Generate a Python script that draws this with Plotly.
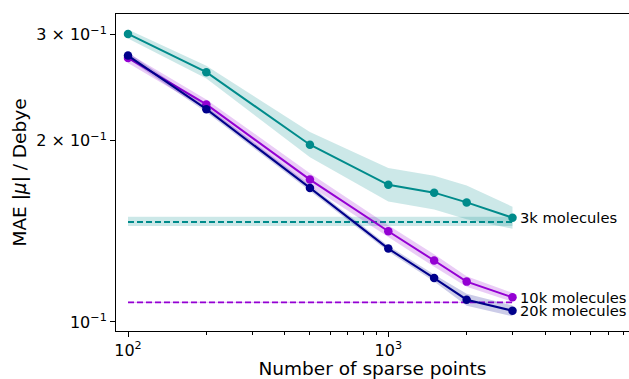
import math
import plotly.graph_objects as go

# ---- data ----
sparse_points = [100, 200, 500, 1000, 1500, 2000, 3000]

mae_3k = [0.301, 0.260, 0.197, 0.169, 0.164, 0.158, 0.149]
mae_3k_lo = [0.2958, 0.2537, 0.1877, 0.1585, 0.1537, 0.1481, 0.1429]
mae_3k_hi = [0.3062, 0.2665, 0.2068, 0.1802, 0.1750, 0.1686, 0.1554]

mae_10k = [0.2745, 0.2298, 0.1724, 0.1415, 0.1265, 0.1167, 0.1099]
mae_10k_lo = [0.2693, 0.2254, 0.1682, 0.1383, 0.1235, 0.1144, 0.1080]
mae_10k_hi = [0.2798, 0.2342, 0.1767, 0.1448, 0.1296, 0.1191, 0.1118]

mae_20k = [0.2770, 0.2257, 0.1670, 0.1324, 0.1183, 0.1089, 0.1044]
mae_20k_lo = [0.2738, 0.2231, 0.1651, 0.1309, 0.1167, 0.1064, 0.1022]
mae_20k_hi = [0.2802, 0.2283, 0.1689, 0.1339, 0.1199, 0.1114, 0.1066]

ref_x = [100, 3000]
ref_3k = 0.1466
ref_3k_lo = 0.1443
ref_3k_hi = 0.1496
ref_10k = 0.1078
ref_10k_lo = 0.1075
ref_10k_hi = 0.1081

labels = ["3k molecules", "10k molecules", "20k molecules"]

y_tickvals = [0.1, 0.2, 0.3]
y_ticktext = ["10<sup>−1</sup>", "2 × 10<sup>−1</sup>", "3 × 10<sup>−1</sup>"]
x_tickvals = [100, 1000]
x_ticktext = ["10<sup>2</sup>", "10<sup>3</sup>"]
x_minor = [200, 300, 400, 500, 600, 700, 800, 900, 2000, 3000, 4000, 5000, 6000, 7000, 8000]

TEAL = "#008b8b"
PURPLE = "#9400d3"
NAVY = "#00008b"

def rgba(hexc, a):
    h = hexc.lstrip("#")
    return f"rgba({int(h[0:2],16)},{int(h[2:4],16)},{int(h[4:6],16)},{a})"

fig = go.Figure()

def band(x, lo, hi, color):
    fig.add_trace(go.Scatter(x=x, y=lo, mode="lines", line=dict(width=0),
                             hoverinfo="skip", showlegend=False))
    fig.add_trace(go.Scatter(x=x, y=hi, mode="lines", line=dict(width=0),
                             fill="tonexty", fillcolor=rgba(color, 0.2),
                             hoverinfo="skip", showlegend=False))

# reference horizontal lines
band(ref_x, [ref_3k_lo] * 2, [ref_3k_hi] * 2, TEAL)
band(ref_x, [ref_10k_lo] * 2, [ref_10k_hi] * 2, PURPLE)
fig.add_trace(go.Scatter(x=ref_x, y=[ref_3k] * 2, mode="lines",
                         line=dict(color=TEAL, width=1.8, dash="6px,3px"), showlegend=False))
fig.add_trace(go.Scatter(x=ref_x, y=[ref_10k] * 2, mode="lines",
                         line=dict(color=PURPLE, width=1.8, dash="6px,3px"), showlegend=False))

series = [
    (mae_3k, mae_3k_lo, mae_3k_hi, TEAL),
    (mae_10k, mae_10k_lo, mae_10k_hi, PURPLE),
    (mae_20k, mae_20k_lo, mae_20k_hi, NAVY),
]
for y, lo, hi, c in series:
    band(sparse_points, lo, hi, c)
    fig.add_trace(go.Scatter(x=sparse_points, y=y, mode="lines+markers",
                             line=dict(color=c, width=2),
                             marker=dict(color=c, size=8.5), showlegend=False))

# annotations on log axes take log10 coordinates
for (y, lo, hi, c), lab in zip(series, labels):
    fig.add_annotation(x=math.log10(sparse_points[-1]), y=math.log10(y[-1]),
                       xref="x", yref="y",
                       text=lab, showarrow=False, xanchor="left", yanchor="middle",
                       xshift=5, font=dict(size=14.7, color="black"))

FONT = "DejaVu Sans"
fig.update_layout(
    width=629, height=379,
    margin=dict(l=116, r=0, t=14, b=48),
    paper_bgcolor="white", plot_bgcolor="white",
    font=dict(family=FONT, color="black", size=14),
    xaxis=dict(type="log", range=[1.9539, 3.9247],
               tickvals=x_tickvals, ticktext=x_ticktext,
               ticks="outside", ticklen=5, tickwidth=1, tickcolor="black",
               minor=dict(tickvals=x_minor, ticks="outside", ticklen=3,
                          tickwidth=0.8, tickcolor="black", showgrid=False),
               showline=True, linecolor="black", linewidth=1, mirror=True,
               showgrid=False, zeroline=False,
               tickfont=dict(size=16),
               title=dict(text="Number of sparse points", font=dict(size=18.5), standoff=2)),
    yaxis=dict(type="log", range=[-1.01496, -0.4884],
               tickvals=y_tickvals, ticktext=y_ticktext,
               ticks="outside", ticklen=5, tickwidth=1, tickcolor="black",
               showline=True, linecolor="black", linewidth=1, mirror=False,
               showgrid=False, zeroline=False,
               tickfont=dict(size=16),
               title=dict(text="MAE |<i>μ</i>| / Debye", font=dict(size=18.5), standoff=4)),
)

fig.write_html("out.html", config={"displayModeBar": False},
               post_script="document.body.style.margin='0';")
